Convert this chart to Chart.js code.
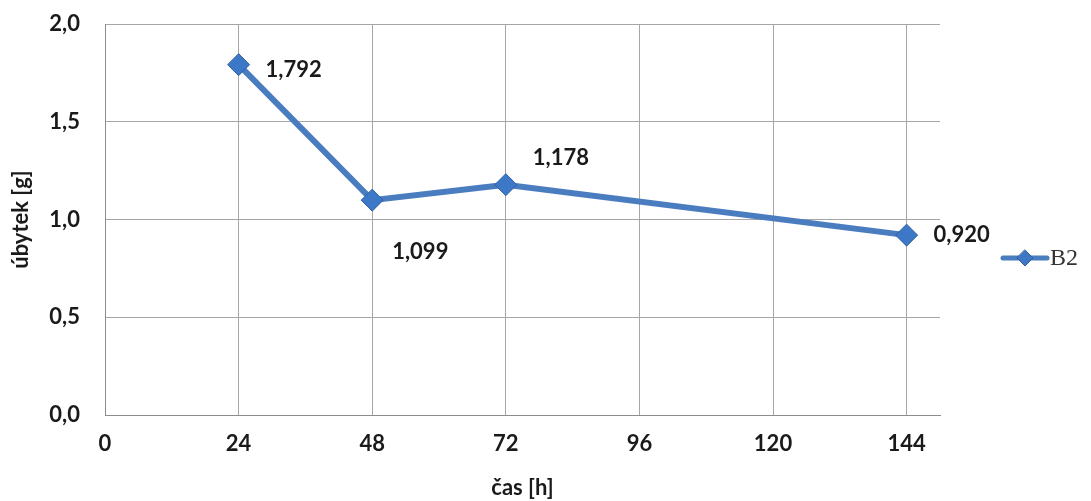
<!DOCTYPE html>
<html>
<head>
<meta charset="utf-8">
<script src="https://cdn.jsdelivr.net/npm/chart.js@4/dist/chart.umd.min.js"></script>
<style>
  html, body { margin: 0; padding: 0; background: #fff; }
  #wrap { width: 1091px; height: 501px; }
</style>
</head>
<body>
<div id="wrap"><canvas id="c" width="1091" height="501"></canvas></div>
<script>
// Measurement times (hours) and weight loss of sample B2 (grams)
const hours = [24, 48, 72, 144];
const lossB2 = [1.792, 1.099, 1.178, 0.920];
const seriesName = 'B2';
const xTickValues = [0, 24, 48, 72, 96, 120, 144];
const yTickLabels = ['0,0', '0,5', '1,0', '1,5', '2,0'];

const lineBlue = '#4a7dc0';
const FONT = 'Lato, "Open Sans", sans-serif';

const fmt = v => v.toFixed(3).replace('.', ',');

// Offsets of each value label relative to its point
const labelOffsets = [
  { dx: 27, dy: 5 },
  { dx: 20, dy: 52 },
  { dx: 27, dy: -27 },
  { dx: 27, dy: 0 }
];

const valueLabels = {
  id: 'valueLabels',
  afterDatasetsDraw(chart) {
    const ctx = chart.ctx;
    const meta = chart.getDatasetMeta(0);
    ctx.save();
    ctx.font = 'bold 22px ' + FONT;
    ctx.fillStyle = '#1a1a1a';
    ctx.textAlign = 'left';
    ctx.textBaseline = 'middle';
    meta.data.forEach((pt, i) => {
      const o = labelOffsets[i];
      ctx.fillText(fmt(lossB2[i]), pt.x + o.dx, pt.y + o.dy);
    });
    ctx.restore();
  }
};

// Legend entry: short line with a diamond marker, and the series name
const sideLegend = {
  id: 'sideLegend',
  afterDraw(chart) {
    const ctx = chart.ctx;
    const y = 258, x0 = 1003, x1 = 1047;
    ctx.save();
    ctx.strokeStyle = lineBlue;
    ctx.lineWidth = 5;
    ctx.lineCap = 'round';
    ctx.beginPath(); ctx.moveTo(x0, y); ctx.lineTo(x1, y); ctx.stroke();
    const cx = (x0 + x1) / 2, r = 8;
    ctx.fillStyle = '#3f77c4';
    ctx.strokeStyle = '#2d5d9c';
    ctx.lineWidth = 1;
    ctx.beginPath();
    ctx.moveTo(cx, y - r); ctx.lineTo(cx + r, y); ctx.lineTo(cx, y + r); ctx.lineTo(cx - r, y);
    ctx.closePath(); ctx.fill(); ctx.stroke();
    ctx.font = '24px "Liberation Serif", serif';
    ctx.fillStyle = '#333';
    ctx.textBaseline = 'middle';
    ctx.fillText(seriesName, 1050, y + 1);
    ctx.restore();
  }
};

const ctx = document.getElementById('c').getContext('2d');

new Chart(ctx, {
  type: 'line',
  data: {
    datasets: [{
      label: seriesName,
      data: hours.map((h, i) => ({ x: h, y: lossB2[i] })),
      borderColor: lineBlue,
      borderWidth: 6,
      pointStyle: 'rectRot',
      pointRadius: 11,
      pointHoverRadius: 11,
      pointBackgroundColor: '#3d78c8',
      pointBorderColor: '#2f609f',
      pointBorderWidth: 1,
      tension: 0
    }]
  },
  options: {
    responsive: false,
    animation: false,
    devicePixelRatio: 1,
    layout: { padding: { left: 0, top: 24, right: 151, bottom: 0 } },
    plugins: {
      legend: { display: false },
      tooltip: { enabled: false }
    },
    scales: {
      x: {
        type: 'linear',
        min: 0,
        max: 150,
        ticks: {
          padding: 16,
          color: '#1a1a1a',
          font: { family: FONT, size: 22, weight: 'bold' }
        },
        afterBuildTicks(scale) {
          scale.ticks = xTickValues.map(v => ({ value: v }));
        },
        afterFit(scale) {
          scale.height = 86;
          scale.paddingLeft = 0;
          scale.paddingRight = 0;
        },
        grid: { color: '#a6a6a6', lineWidth: 1, drawTicks: false },
        border: { color: '#8c8c8c', width: 1 },
        title: {
          display: true,
          text: 'čas [h]',
          color: '#1a1a1a',
          font: { family: FONT, size: 22, weight: 'bold' },
          padding: { top: 0, bottom: 0 }
        }
      },
      y: {
        min: 0,
        max: 2,
        ticks: {
          stepSize: 0.5,
          padding: 25,
          color: '#1a1a1a',
          font: { family: FONT, size: 22, weight: 'bold' },
          callback: (v, i) => yTickLabels[i]
        },
        afterFit(scale) {
          scale.width = 105;
          scale.paddingTop = 0;
          scale.paddingBottom = 0;
        },
        grid: { color: '#a6a6a6', lineWidth: 1, drawTicks: false },
        border: { color: '#8c8c8c', width: 1 },
        title: {
          display: true,
          text: 'úbytek [g]',
          color: '#1a1a1a',
          font: { family: FONT, size: 22, weight: 'bold' },
          padding: { top: 8, bottom: 0 }
        }
      }
    }
  },
  plugins: [valueLabels, sideLegend]
});
</script>
</body>
</html>
